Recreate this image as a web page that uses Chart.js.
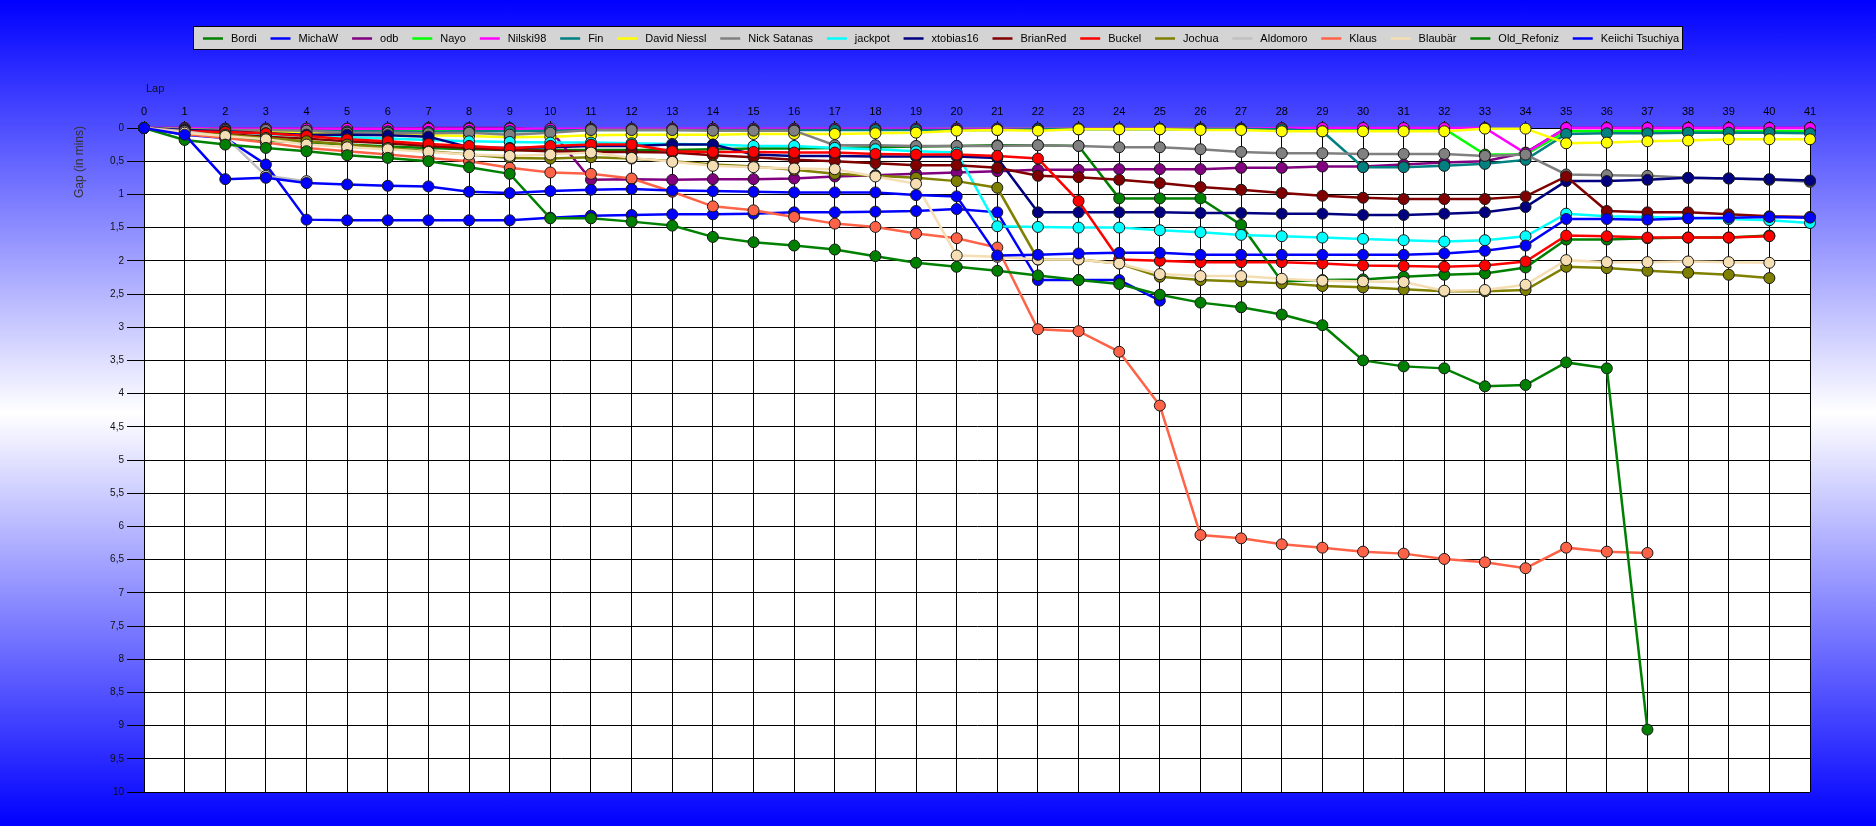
<!DOCTYPE html>
<html><head><meta charset="utf-8">
<script src="https://cdn.jsdelivr.net/npm/chart.js@4.4.1/dist/chart.umd.min.js"></script>
<style>
html,body{margin:0;padding:0;width:1876px;height:826px;overflow:hidden;
background:linear-gradient(to bottom,#0000ff 0%,#ffffff 50%,#0000ff 100%);}
canvas{display:block}
</style></head><body>
<canvas id="c" width="1876" height="826"></canvas>
<script>
const laps = [0,1,2,3,4,5,6,7,8,9,10,11,12,13,14,15,16,17,18,19,20,21,22,23,24,25,26,27,28,29,30,31,32,33,34,35,36,37,38,39,40,41];
const yTicksTitle = 'Gap (in mins)';
const xTitle = 'Lap';

const seriesNames = ['Bordi','MichaW','odb','Nayo','Nilski98','Fin','David Niessl','Nick Satanas','jackpot','xtobias16','BrianRed','Buckel','Jochua','Aldomoro','Klaus','Blaubär','Old_Refoniz','Keiichi Tsuchiya'];
const seriesColors = ['#008000','#0000ff','#800080','#00ff00','#ff00ff','#008080','#ffff00','#808080','#00ffff','#000080','#800000','#ff0000','#808000','#c0c0c0','#ff6347','#f5deb3','#008000','#0000ff'];

const bordi = [0,0.08,0.14,0.19,0.22,0.25,0.28,0.30,0.32,0.33,
 0.33,0.33,0.33,0.33,0.32,0.31,0.31,0.30,0.29,0.28,
 0.27,0.26,0.26,0.27,1.06,1.06,1.06,1.46,2.31,2.29,
 2.28,2.24,2.21,2.19,2.10,1.68,1.68,1.66,1.65,1.65,
 1.62,null];
const michaW = [0,0.10,0.15,0.55,1.38,1.39,1.39,1.39,1.39,1.39,
 1.35,1.32,1.31,1.30,1.30,1.29,1.27,1.27,1.26,1.25,
 1.22,1.27,2.29,2.29,2.29,2.60,null,null,null,null,
 null,null,null,null,null,null,null,null,null,null,
 null,null];
const odb = [0,0.00,0.01,0.01,0.01,0.01,0.01,0.00,0.00,0.00,
 0.03,0.78,0.77,0.78,0.77,0.77,0.76,0.73,0.71,0.69,
 0.67,0.65,0.63,0.63,0.62,0.62,0.62,0.60,0.60,0.58,
 0.58,0.55,0.52,0.50,0.37,0.00,0.00,0.00,0.00,0.00,
 0.00,0.00];
const nayo = [0,0.01,0.02,0.02,0.03,0.03,0.03,0.03,0.03,0.03,
 0.03,0.02,0.02,0.02,0.02,0.02,0.02,0.02,0.02,0.02,
 0.01,0.01,0.01,0.01,0.01,0.01,0.01,0.01,0.01,0.01,
 0.01,0.01,0.01,0.40,0.40,0.05,0.05,0.05,0.05,0.05,
 0.05,0.05];
const nilski98 = [0,0.00,0.01,0.01,0.01,0.01,0.01,0.01,0.01,0.01,
 0.01,0.01,0.01,0.01,0.01,0.01,0.01,0.01,0.01,0.01,
 0.01,0.01,0.01,0.01,0.01,0.01,0.01,0.01,0.00,0.00,
 0.00,0.00,0.00,0.00,0.38,0.00,0.00,0.00,0.00,0.00,
 0.00,0.00];
const fin = [0,0.02,0.03,0.04,0.04,0.05,0.05,0.06,0.05,0.05,
 0.04,0.03,0.03,0.03,0.03,0.03,0.03,0.03,0.03,0.03,
 0.03,0.03,0.02,0.02,0.02,0.02,0.02,0.02,0.02,0.05,
 0.59,0.59,0.57,0.54,0.48,0.09,0.08,0.08,0.07,0.07,
 0.07,0.08];
const davidNiessl = [0,0.02,0.04,0.05,0.07,0.08,0.09,0.11,0.12,0.14,
 0.13,0.11,0.10,0.10,0.10,0.09,0.09,0.09,0.08,0.07,
 0.04,0.03,0.04,0.02,0.02,0.02,0.03,0.03,0.05,0.05,
 0.05,0.05,0.05,0.01,0.01,0.23,0.22,0.20,0.19,0.17,
 0.17,0.17];
const nickSatanas = [0,0.02,0.03,0.03,0.04,0.07,0.07,0.08,0.07,0.10,
 0.07,0.03,0.03,0.03,0.04,0.04,0.04,0.26,0.26,0.27,
 0.27,0.27,0.26,0.27,0.29,0.29,0.32,0.36,0.38,0.38,
 0.39,0.39,0.39,0.42,0.40,0.70,0.71,0.72,0.75,0.76,
 0.78,0.81];
const jackpot = [0,0.04,0.06,0.09,0.12,0.14,0.16,0.18,0.20,0.21,
 0.22,0.22,0.23,0.24,0.25,0.27,0.27,0.30,0.32,0.35,
 0.37,1.48,1.49,1.50,1.50,1.54,1.57,1.61,1.63,1.65,
 1.67,1.69,1.71,1.69,1.63,1.29,1.33,1.34,1.35,1.37,
 1.39,1.43];
const xtobias16 = [0,0.03,0.05,0.08,0.10,0.10,0.11,0.13,0.29,0.30,
 0.29,0.27,0.27,0.25,0.25,0.40,0.42,0.42,0.43,0.43,
 0.43,0.45,1.27,1.27,1.27,1.27,1.28,1.28,1.29,1.29,
 1.31,1.31,1.29,1.27,1.19,0.80,0.80,0.78,0.75,0.76,
 0.77,0.79];
const brianRed = [0,0.06,0.09,0.13,0.16,0.20,0.23,0.27,0.30,0.33,
 0.35,0.36,0.36,0.37,0.41,0.44,0.48,0.50,0.53,0.56,
 0.56,0.60,0.72,0.74,0.78,0.83,0.89,0.93,0.98,1.02,
 1.05,1.07,1.07,1.07,1.03,0.73,1.25,1.27,1.27,1.30,
 1.33,1.34];
const buckel = [0,0.05,0.06,0.08,0.12,0.17,0.20,0.24,0.27,0.31,
 0.27,0.25,0.25,0.35,0.36,0.36,0.37,0.37,0.39,0.40,
 0.40,0.42,0.46,1.10,1.98,2.00,2.02,2.02,2.02,2.04,
 2.07,2.08,2.09,2.07,2.01,1.62,1.63,1.65,1.65,1.65,
 1.63,null];
const jochua = [0,0.07,0.10,0.15,0.20,0.25,0.30,0.35,0.40,0.45,
 0.46,0.44,0.46,0.50,0.55,0.58,0.63,0.69,0.72,0.75,
 0.80,0.90,1.98,1.98,2.04,2.24,2.29,2.31,2.34,2.38,
 2.40,2.43,2.46,2.46,2.44,2.09,2.11,2.15,2.18,2.21,
 2.26,null];
const aldomoro = [0,0.05,0.13,0.72,0.80,null,null,null,null,null,
 null,null,null,null,null,null,null,null,null,null,
 null,null,null,null,null,null,null,null,null,null,
 null,null,null,null,null,null,null,null,null,null,
 null,null];
const klaus = [0,0.09,0.15,0.22,0.30,0.35,0.40,0.45,0.50,0.60,
 0.67,0.69,0.76,0.96,1.18,1.24,1.34,1.44,1.49,1.59,
 1.66,1.80,3.03,3.06,3.37,4.18,6.13,6.18,6.27,6.32,
 6.38,6.41,6.49,6.54,6.63,6.32,6.38,6.40,null,null,
 null,null];
const blaubaer = [0,0.07,0.12,0.17,0.25,0.29,0.32,0.36,0.40,0.42,
 0.40,0.37,0.45,0.51,0.57,0.59,0.61,0.62,0.73,0.84,
 1.92,1.94,1.98,1.98,2.04,2.20,2.23,2.23,2.27,2.30,
 2.31,2.32,2.45,2.44,2.36,1.99,2.02,2.02,2.01,2.02,
 2.03,null];
const oldRefoniz = [0,0.18,0.25,0.30,0.35,0.41,0.45,0.50,0.59,0.69,
 1.36,1.36,1.41,1.47,1.64,1.72,1.77,1.83,1.93,2.03,
 2.09,2.15,2.22,2.29,2.35,2.51,2.63,2.70,2.81,2.97,
 3.50,3.59,3.62,3.89,3.87,3.53,3.62,9.06,null,null,
 null,null];
const keiichi = [0,0.10,0.77,0.75,0.83,0.85,0.87,0.88,0.96,0.98,
 0.95,0.93,0.92,0.94,0.95,0.96,0.97,0.97,0.97,1.01,
 1.03,1.92,1.91,1.89,1.88,1.88,1.91,1.91,1.91,1.91,
 1.91,1.91,1.89,1.85,1.77,1.37,1.37,1.38,1.36,1.35,
 1.34,1.35];

const seriesValues = [bordi,michaW,odb,nayo,nilski98,fin,davidNiessl,nickSatanas,jackpot,xtobias16,brianRed,buckel,jochua,aldomoro,klaus,blaubaer,oldRefoniz,keiichi];

const FONT = '"Liberation Sans", Arial, sans-serif';
const N = seriesNames.length;

const datasets = seriesNames.map((name, i) => ({
  label: name,
  data: laps.map((l, j) => ({x: l, y: seriesValues[i][j]})),
  borderColor: seriesColors[i],
  backgroundColor: seriesColors[i],
  pointBackgroundColor: seriesColors[i],
  pointBorderColor: '#1a1a1a',
  pointBorderWidth: 1,
  pointRadius: 5.5,
  borderWidth: 2.5,
  tension: 0,
  spanGaps: false,
  clip: false,
  order: N - i
}));

const decor = {
  id: 'decor',
  beforeDraw(chart) {
    const {ctx, chartArea: a} = chart;
    ctx.save();
    ctx.fillStyle = '#ffffff';
    ctx.fillRect(a.left, a.top, a.right - a.left, a.bottom - a.top);
    ctx.restore();
  },
  afterDraw(chart) {
    const ctx = chart.ctx;
    ctx.save();
    const bx = 193, by = 26, bw = 1490, bh = 24;
    ctx.fillStyle = '#d4d4d4';
    ctx.fillRect(bx, by, bw, bh);
    ctx.strokeStyle = '#000';
    ctx.lineWidth = 1;
    ctx.strokeRect(bx + 0.5, by + 0.5, bw - 1, bh - 1);
    ctx.font = '11px ' + FONT;
    ctx.textBaseline = 'middle';
    ctx.textAlign = 'left';
    const lineLen = 20, tgap = 8;
    const widths = seriesNames.map(n => ctx.measureText(n).width);
    const startX = 203, endX = 1679;
    const used = widths.reduce((s, w) => s + lineLen + tgap + w, 0);
    const gap = (endX - startX - used) / (N - 1);
    let x = startX;
    const ly = by + bh / 2 + 0.5;
    seriesNames.forEach((n, i) => {
      ctx.strokeStyle = seriesColors[i];
      ctx.lineWidth = 2.5;
      ctx.beginPath();
      ctx.moveTo(x, ly);
      ctx.lineTo(x + lineLen, ly);
      ctx.stroke();
      ctx.fillStyle = '#000';
      ctx.fillText(n, x + lineLen + tgap, ly);
      x += lineLen + tgap + widths[i] + gap;
    });
    ctx.fillStyle = '#111';
    ctx.font = '11px ' + FONT;
    ctx.fillText(xTitle, 146, 89);
    ctx.translate(80, 162);
    ctx.rotate(-Math.PI / 2);
    ctx.textAlign = 'center';
    ctx.fillStyle = '#333';
    ctx.font = '12px ' + FONT;
    ctx.fillText(yTicksTitle, 0, 0);
    ctx.restore();
  }
};

new Chart(document.getElementById('c'), {
  type: 'line',
  data: { datasets },
  plugins: [decor],
  options: {
    responsive: false,
    animation: false,
    layout: { padding: { left: 0, right: 66, top: 0, bottom: 34 } },
    plugins: { legend: { display: false }, tooltip: { enabled: false }, title: { display: false } },
    scales: {
      x: {
        type: 'linear', position: 'top', min: 0, max: 41,
        afterFit(s) { s.height = 128; },
        ticks: { stepSize: 1, autoSkip: false, maxRotation: 0, color: '#000', padding: 2,
                 font: { family: FONT, size: 11 } },
        grid: { color: '#000', lineWidth: 1, drawTicks: true, tickLength: 7, tickColor: '#000' },
        border: { display: true, color: '#000', width: 1 }
      },
      y: {
        type: 'linear', reverse: true, min: 0, max: 10,
        afterFit(s) { s.width = 144; },
        ticks: { stepSize: 0.5, autoSkip: false, color: '#111', padding: 3,
                 font: { family: FONT, size: 10 },
                 callback: v => String(v).replace('.', ',') },
        grid: { color: '#000', lineWidth: 1, drawTicks: true, tickLength: 17, tickColor: '#000' },
        border: { display: true, color: '#000', width: 1 }
      }
    }
  }
});
</script>
</body></html>
